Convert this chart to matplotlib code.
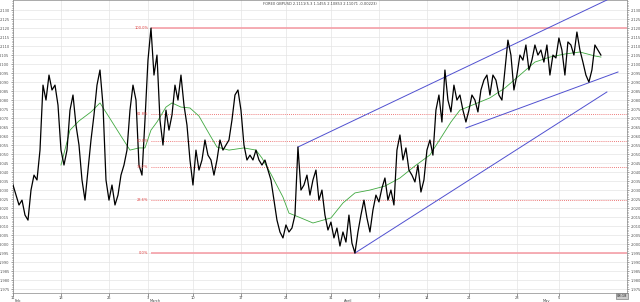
import numpy as np
import matplotlib
matplotlib.use("Agg")
import matplotlib.pyplot as plt

# ---------------- data ----------------
price = [2.0328, 2.0272, 2.0217, 2.0244, 2.0161, 2.0133, 2.0300, 2.0383, 2.0356, 2.0522,
         2.0883, 2.0800, 2.0939, 2.0856, 2.0883, 2.0772, 2.0522, 2.0439, 2.0522, 2.0744,
         2.0828, 2.0661, 2.0550, 2.0356, 2.0244, 2.0411, 2.0578, 2.0717, 2.0883, 2.0967,
         2.0772, 2.0356, 2.0244, 2.0328, 2.0217, 2.0272, 2.0383, 2.0439, 2.0522, 2.0744,
         2.0883, 2.0800, 2.0439, 2.0383, 2.0689, 2.1022, 2.1200, 2.0939, 2.1050, 2.0689,
         2.0550, 2.0744, 2.0633, 2.0717, 2.0883, 2.0800, 2.0939, 2.0772, 2.0661, 2.0467,
         2.0328, 2.0522, 2.0411, 2.0467, 2.0578, 2.0494, 2.0467, 2.0383, 2.0467, 2.0578,
         2.0522, 2.0550, 2.0578, 2.0689, 2.0828, 2.0856, 2.0744, 2.0550, 2.0467, 2.0494,
         2.0467, 2.0522, 2.0467, 2.0439, 2.0467, 2.0411, 2.0356, 2.0244, 2.0133, 2.0067,
         2.0034, 2.0106, 2.0067, 2.0089, 2.0161, 2.0539, 2.0300, 2.0328, 2.0383, 2.0272,
         2.0356, 2.0411, 2.0244, 2.0300, 2.0161, 2.0078, 2.0122, 2.0034, 2.0089, 1.9989,
         2.0067, 2.0011, 2.0161, 2.0005, 1.9950, 2.0067, 2.0161, 2.0244, 2.0145, 2.0067,
         2.0189, 2.0272, 2.0234, 2.0311, 2.0367, 2.0244, 2.0300, 2.0217, 2.0522, 2.0606,
         2.0467, 2.0534, 2.0411, 2.0383, 2.0345, 2.0439, 2.0289, 2.0356, 2.0522, 2.0578,
         2.0494, 2.0744, 2.0828, 2.0678, 2.0967, 2.0800, 2.0734, 2.0883, 2.0800, 2.0828,
         2.0744, 2.0678, 2.0744, 2.0828, 2.0800, 2.0734, 2.0856, 2.0911, 2.0939, 2.0828,
         2.0939, 2.0911, 2.0828, 2.0800, 2.0967, 2.1133, 2.1050, 2.0856, 2.0939, 2.1050,
         2.1022, 2.1106, 2.0967, 2.1022, 2.1106, 2.1050, 2.1078, 2.1011, 2.1106, 2.0939,
         2.1050, 2.1034, 2.1145, 2.1078, 2.0939, 2.1123, 2.1106, 2.1050, 2.1178, 2.1078,
         2.1011, 2.0939, 2.0900, 2.0967, 2.1106, 2.1078, 2.1050]

ma_bars = [16, 19, 22, 26, 29, 32, 36, 39, 42, 44, 46, 48, 51, 53, 56, 59, 62, 66, 68, 72,
           77, 81, 83, 86, 90, 92, 96, 100, 106, 110, 114, 119, 124, 129, 134, 139, 142, 146,
           149, 154, 159, 164, 169, 174, 179, 184, 189, 194, 196]
ma_values = [2.0439, 2.0633, 2.0684, 2.0734, 2.0784, 2.0706, 2.0600, 2.0522, 2.0534, 2.0534,
             2.0633, 2.0678, 2.0761, 2.0784, 2.0761, 2.0756, 2.0711, 2.0595, 2.0539, 2.0522,
             2.0534, 2.0522, 2.0478, 2.0389, 2.0261, 2.0172, 2.0145, 2.0117, 2.0145, 2.0228,
             2.0284, 2.0300, 2.0322, 2.0367, 2.0434, 2.0495, 2.0573, 2.0678, 2.0744, 2.0778,
             2.0812, 2.0867, 2.0939, 2.1011, 2.1039, 2.1056, 2.1067, 2.1045, 2.1039]

# trend lines: (bar0, price0, bar1, price1)
trend_upper = (95, 2.0539, 198, 2.1356)
trend_lower = (114, 1.9950, 198, 2.0845)
trend_mid = (151, 2.0645, 201.7, 2.0956)

fib_high, fib_high_bar = 2.1200, 46
fib_low = 1.9950
fib_levels = [1.0, 0.618, 0.5, 0.382, 0.236, 0.0]
fib_labels = ["100.0%", "61.8%", "50.0%", "38.2%", "23.6%", "0.0%"]

day_ticks = [0, 16, 32, 45, 60, 76, 91, 106, 122, 138, 152, 168, 182]
day_labels = ["11", "18", "25", "3", "10", "17", "24", "31", "7", "14", "21", "28", "5"]
month_ticks = [0, 45, 110, 176]
month_labels = ["Feb", "March", "April", "May"]

title = "FOREX GBPUSD 2.1111(5.3 1.1455 2.10853 2.11071 -0.00223)"

# ---------------- figure ----------------
fig = plt.figure(figsize=(6.4, 3.02), dpi=100)
ax = fig.add_axes([13 / 640, 1 - 293 / 302, (627 - 13) / 640, 293 / 302])
ax.set_facecolor("white")

ymin, ymax = 1.9728, 2.1356
ax.set_ylim(ymin, ymax)
ax.set_xlim(0, 204.7)

yt = np.round(np.arange(1.975, 2.1301, 0.005), 3)
ax.set_yticks(yt)
ax.set_yticklabels([f"{v:.3f}" for v in yt])
ax.set_yticks(np.round(np.arange(1.973, 2.1356, 0.001), 3), minor=True)
ax.tick_params(axis="y", which="both", labelsize=2.6, length=1.5, width=0.4,
               left=True, right=True, labelleft=True, labelright=True, pad=1,
               colors="#555555")
ax.tick_params(axis="y", which="minor", length=0.8)

ax.set_xticks(day_ticks)
ax.set_xticklabels(day_labels)
ax.tick_params(axis="x", labelsize=2.6, length=2, width=0.4, pad=0.3, colors="#444444")
for xm, lm in zip(month_ticks, month_labels):
    ax.text(xm + 0.5, -0.022, lm, transform=ax.get_xaxis_transform(), fontsize=2.6,
            color="#444444", ha="left", va="top")

ax.grid(True, which="major", color="#e4e4e4", linewidth=0.5)
for s in ax.spines.values():
    s.set_color("#888888")
    s.set_linewidth(0.5)

# fib retracement lines
rng = fib_high - fib_low
for lev, lab in zip(fib_levels, fib_labels):
    yv = fib_low + lev * rng
    if lev in (0.0, 1.0):
        ax.hlines(yv, fib_high_bar, 204.7, color="#f5a0a8", linewidth=1.2, zorder=2)
    else:
        ax.hlines(yv, fib_high_bar, 204.7, color="#e85050", linewidth=0.6,
                  linestyles=(0, (1, 1.5)), zorder=2)
    ax.text(fib_high_bar - 0.8, yv, lab, fontsize=2.6, color="#e04040",
            ha="right", va="center", zorder=5)

# trend lines
for tl in (trend_upper, trend_lower, trend_mid):
    ax.plot([tl[0], tl[2]], [tl[1], tl[3]], color="#5050d0", linewidth=0.7, zorder=3)

# moving average
ax.plot(ma_bars, ma_values, color="#3fa83f", linewidth=0.6, zorder=3)

# price
ax.plot(np.arange(len(price)), price, color="black", linewidth=0.9, zorder=4)

fig.text(0.5, 0.992, title, fontsize=2.6, color="#444444", ha="center", va="top")
ax.text(1.0, -0.004, "08:18", transform=ax.transAxes, fontsize=2.6, ha="right", va="top",
        color="#222222", bbox=dict(boxstyle="square,pad=0.2", fc="#cccccc", ec="#666666", lw=0.4))

fig.savefig("out.png", dpi=100, facecolor="white")
